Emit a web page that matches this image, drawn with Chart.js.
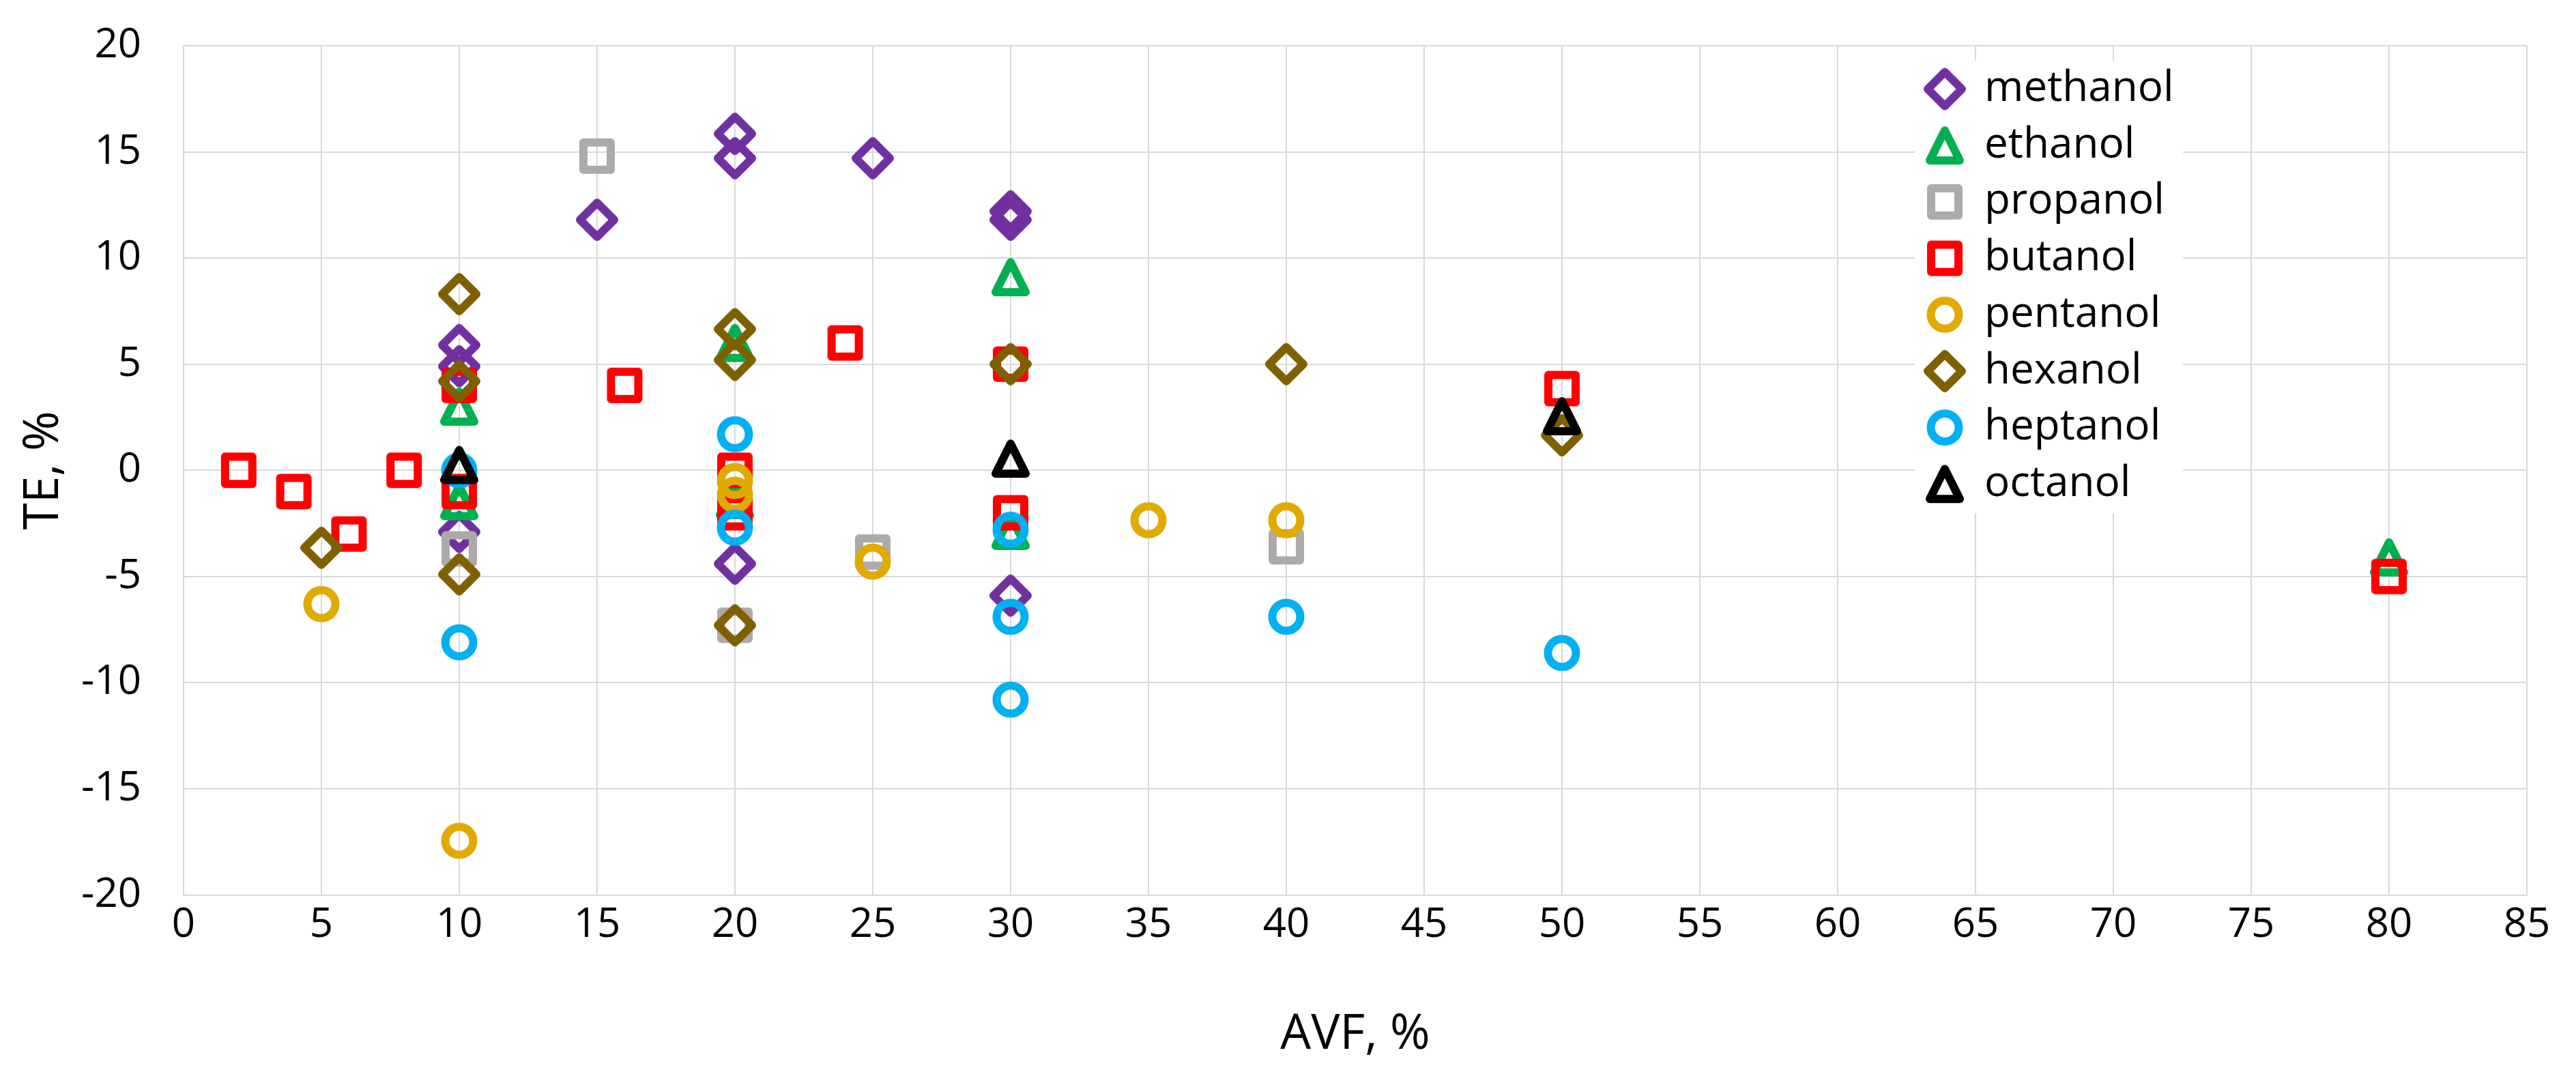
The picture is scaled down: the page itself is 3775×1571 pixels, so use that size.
<!DOCTYPE html>
<html><head><meta charset="utf-8">
<script src="https://cdn.jsdelivr.net/npm/chart.js@4.4.0/dist/chart.umd.min.js"></script>
<style>html,body{margin:0;padding:0;background:#fff;overflow:hidden}#wrap{width:3775px;height:1571px;position:relative}</style>
</head><body><div id="wrap"><canvas id="c" width="3775" height="1571"></canvas></div>
<script>
// ---- data (x = AVF %, y = TE %) ----
const seriesNames = ['methanol','ethanol','propanol','butanol','pentanol','hexanol','heptanol','octanol'];
const methanol = [[10,5.9],[10,4.9],[10,-2.9],[15,11.8],[20,15.85],[20,14.7],[20,-4.4],[25,14.7],[30,12.2],[30,11.8],[30,-5.9]];
const ethanol  = [[10,3.0],[10,-1.45],[20,6.0],[20,-1.4],[30,9.1],[30,-2.85],[80,-4.1]];
const propanol = [[10,-3.7],[15,14.8],[20,-7.3],[25,-3.85],[40,-3.6]];
const butanol  = [[2,0],[4,-1],[6,-3],[8,0],[10,4.0],[10,-1.0],[16,4.0],[20,0],[20,-2.0],[24,6.0],[30,5.0],[30,-2.0],[50,3.85],[80,-5.0]];
const pentanol = [[5,-6.3],[10,-17.45],[20,-0.5],[20,-1.15],[25,-4.3],[35,-2.35],[40,-2.35]];
const hexanol  = [[5,-3.65],[10,8.3],[10,4.2],[10,-4.9],[20,6.65],[20,5.2],[20,-7.3],[30,5.0],[40,5.0],[50,1.65]];
const heptanol = [[10,0],[10,-8.1],[20,1.7],[20,-2.7],[30,-2.8],[30,-6.9],[30,-10.8],[40,-6.9],[50,-8.6]];
const octanol  = [[10,0.25],[30,0.55],[50,2.55]];
const xAxisRange = [0,85,5];
const yAxisRange = [-20,20,5];
const xTitle = 'AVF, %';
const yTitle = 'TE, %';

// ---- styles ----
const seriesData = [methanol,ethanol,propanol,butanol,pentanol,hexanol,heptanol,octanol];
const colors = ['#7030A0','#00B050','#AEAAAA','#FF0000','#E0AA00','#7F6000','#00B0F0','#000000'];
const shapes = ['diamond','triangle','square','square','circle','diamond','circle','triangle'];

function makeMarker(shape,color){
  const s=72,c=document.createElement('canvas');c.width=s;c.height=s;
  const g=c.getContext('2d');g.strokeStyle=color;g.lineWidth=12;g.lineJoin='round';
  const m=s/2;g.beginPath();
  if(shape==='diamond'){g.moveTo(m,m-25);g.lineTo(m+25,m);g.lineTo(m,m+25);g.lineTo(m-25,m);g.closePath();}
  else if(shape==='square'){g.rect(m-20,m-20,40,40);}
  else if(shape==='circle'){g.arc(m,m,20.5,0,Math.PI*2);}
  else {g.moveTo(m,m-22);g.lineTo(m+22,m+22);g.lineTo(m-22,m+22);g.closePath();}
  g.stroke();return c;
}

Chart.defaults.font.family='"Open Sans", "DejaVu Sans", sans-serif';
Chart.defaults.color='#000';

const legendPlugin={
  id:'customLegend',
  beforeDatasetsDraw(chart){
    const ctx=chart.ctx, a=chart.chartArea;
    const left=a.right-897, top=a.top+22;
    ctx.save();
    ctx.fillStyle='#fff';ctx.fillRect(left,top,393,663);
    ctx.font='62px "Open Sans"';ctx.textBaseline='middle';ctx.textAlign='left';ctx.fillStyle='#000';
    chart.data.datasets.forEach((ds,i)=>{
      const y=top+41.5+i*82.67;
      ctx.drawImage(ds.pointStyle,left+44-36,y-36);
      ctx.fillText(ds.label,left+102,y);
    });
    ctx.restore();
  }
};

const datasets=seriesNames.map((n,i)=>({
  label:n,
  order:seriesNames.length-i,
  data:seriesData[i].map(p=>({x:p[0],y:p[1]})),
  pointStyle:makeMarker(shapes[i],colors[i]),
  borderColor:colors[i],backgroundColor:'transparent',
  pointRadius:28,pointHoverRadius:28,showLine:false
}));

function noPad(s){s.paddingTop=0;s.paddingBottom=0;s.paddingLeft=0;s.paddingRight=0;}

new Chart(document.getElementById('c'),{
  type:'scatter',
  data:{datasets},
  options:{
    responsive:false,animation:false,devicePixelRatio:1,
    layout:{padding:{top:67,right:72,left:0,bottom:0}},
    plugins:{legend:{display:false},tooltip:{enabled:false}},
    scales:{
      x:{type:'linear',min:xAxisRange[0],max:xAxisRange[1],
        ticks:{stepSize:xAxisRange[2],padding:8,font:{size:60},color:'#000'},
        grid:{color:'#D9D9D9',lineWidth:2,drawTicks:false},
        border:{color:'#D9D9D9',width:2},
        title:{display:true,text:xTitle,font:{size:71},color:'#000',padding:{top:0,bottom:12}},
        afterFit(s){s.height=259.5;noPad(s);}},
      y:{type:'linear',min:yAxisRange[0],max:yAxisRange[1],
        ticks:{stepSize:yAxisRange[2],padding:62,font:{size:60},color:'#000'},
        grid:{color:'#D9D9D9',lineWidth:2,drawTicks:false},
        border:{color:'#D9D9D9',width:2},
        title:{display:true,text:yTitle,font:{size:71},color:'#000',padding:{top:22,bottom:0}},
        afterFit(s){s.width=269;noPad(s);}}
    }
  },
  plugins:[legendPlugin]
});
</script></body></html>
